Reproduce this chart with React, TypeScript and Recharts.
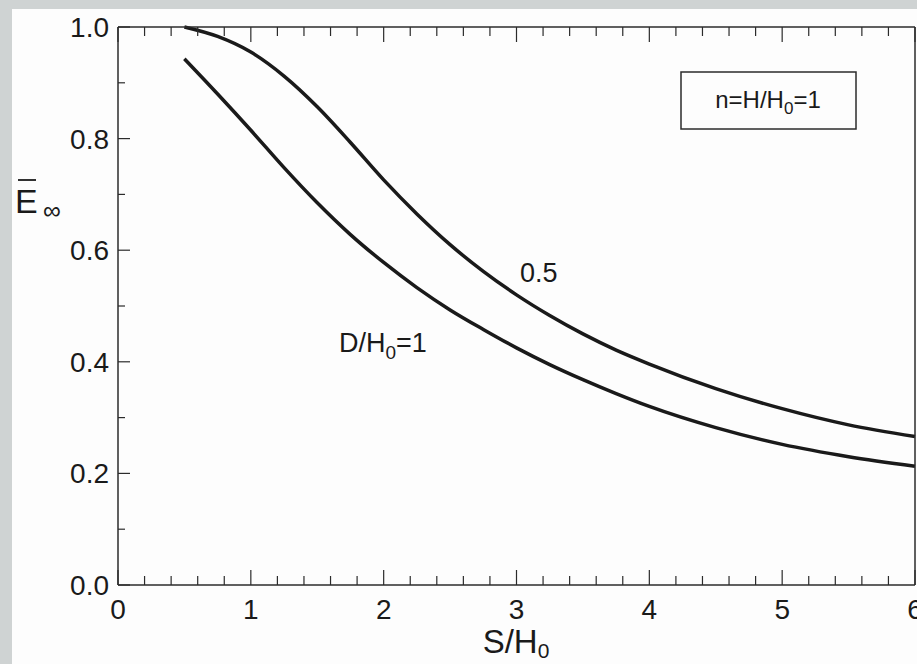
import React from "react"
import { LineChart, Line, XAxis, YAxis } from "recharts"

// S/H0 sample points and E-infinity
const sValues = [0.5, 0.75, 1, 1.25, 1.5, 1.75, 2, 2.25, 2.5, 2.75, 3, 3.25, 3.5, 3.75, 4, 4.5, 5, 5.5, 6]
const eHalf = [1.0, 0.983, 0.955, 0.912, 0.857, 0.793, 0.726, 0.665, 0.61, 0.562, 0.52, 0.483, 0.45, 0.421, 0.396, 0.352, 0.316, 0.287, 0.266]
const eOne = [0.943, 0.88, 0.815, 0.748, 0.685, 0.628, 0.578, 0.533, 0.493, 0.458, 0.425, 0.395, 0.368, 0.343, 0.32, 0.282, 0.252, 0.23, 0.213]

const xTicks = [0, 0.2, 0.4, 0.6, 0.8, 1, 1.2, 1.4, 1.6, 1.8, 2, 2.2, 2.4, 2.6, 2.8, 3, 3.2, 3.4, 3.6, 3.8, 4, 4.2, 4.4, 4.6, 4.8, 5, 5.2, 5.4, 5.6, 5.8, 6]
const yTicks = [0, 0.1, 0.2, 0.3, 0.4, 0.5, 0.6, 0.7, 0.8, 0.9, 1.0]

const data = sValues.map((s, i) => ({ s, half: eHalf[i], one: eOne[i] }))

const FONT = "'Liberation Sans', Arial, sans-serif"
const INK = "#1a1a1a"
const AXIS = "#2b2b2b"

const isMajorX = (v: number) => Math.abs(v - Math.round(v)) < 1e-6
const isMajorY = (v: number) => Math.round(v * 10) % 2 === 0

function BottomTick({ x, y, payload }: any) {
  const major = isMajorX(payload.value)
  return (
    <g>
      <line x1={x} x2={x} y1={y} y2={y - (major ? 15 : 9)} stroke={AXIS} strokeWidth={1.2} />
      {major && (
        <text x={x} y={y + 34} textAnchor="middle" fontFamily={FONT} fontSize={28} fill={INK}>
          {payload.value}
        </text>
      )}
    </g>
  )
}

function TopTick({ x, y, payload }: any) {
  const major = isMajorX(payload.value)
  return <line x1={x} x2={x} y1={y} y2={y + (major ? 15 : 9)} stroke={AXIS} strokeWidth={1.2} />
}

function LeftTick({ x, y, payload }: any) {
  const major = isMajorY(payload.value)
  return (
    <g>
      <line x1={x} x2={x + (major ? 12 : 7)} y1={y} y2={y} stroke={AXIS} strokeWidth={1.2} />
      {major && (
        <text x={x - 9} y={y + 10} textAnchor="end" fontFamily={FONT} fontSize={28} fill={INK}>
          {payload.value.toFixed(1)}
        </text>
      )}
    </g>
  )
}

function RightTick({ x, y, payload }: any) {
  const major = isMajorY(payload.value)
  return <line x1={x} x2={x - (major ? 12 : 8)} y1={y} y2={y} stroke={AXIS} strokeWidth={1.2} />
}

export default function App() {
  return (
    <div style={{ position: "absolute", left: 0, top: 0, width: 917, height: 664, background: "#cfd3d3" }}>
      <div style={{ position: "absolute", left: 12, top: 9, width: 905, height: 655, background: "#fdfdfd" }} />
      <div style={{ position: "absolute", left: 0, top: 0 }}>
        <LineChart width={917} height={664} data={data} margin={{ top: 26, right: 1, bottom: 78, left: 117 }}>
          <XAxis
            xAxisId="b"
            dataKey="s"
            type="number"
            domain={[0, 6]}
            ticks={xTicks}
            interval={0}
            height={1}
            tickSize={0}
            tickMargin={0}
            tick={(p: any) => <BottomTick {...p} />}
            axisLine={{ stroke: AXIS, strokeWidth: 1.5 }}
          />
          <XAxis
            xAxisId="t"
            orientation="top"
            dataKey="s"
            type="number"
            domain={[0, 6]}
            ticks={xTicks}
            interval={0}
            height={1}
            tickSize={0}
            tickMargin={0}
            tick={(p: any) => <TopTick {...p} />}
            axisLine={{ stroke: AXIS, strokeWidth: 1.5 }}
          />
          <YAxis
            yAxisId="l"
            type="number"
            domain={[0, 1]}
            ticks={yTicks}
            interval={0}
            width={1}
            tickSize={0}
            tickMargin={0}
            tick={(p: any) => <LeftTick {...p} />}
            axisLine={{ stroke: AXIS, strokeWidth: 1.5 }}
          />
          <YAxis
            yAxisId="r"
            orientation="right"
            type="number"
            domain={[0, 1]}
            ticks={yTicks}
            interval={0}
            width={1}
            tickSize={0}
            tickMargin={0}
            tick={(p: any) => <RightTick {...p} />}
            axisLine={{ stroke: AXIS, strokeWidth: 1.5 }}
          />
          <Line xAxisId="b" yAxisId="l" type="monotone" dataKey="half" stroke={INK} strokeWidth={3.5} dot={false} isAnimationActive={false} />
          <Line xAxisId="b" yAxisId="l" type="monotone" dataKey="one" stroke={INK} strokeWidth={3.5} dot={false} isAnimationActive={false} />
        </LineChart>
      </div>
      <svg width={917} height={664} style={{ position: "absolute", left: 0, top: 0, pointerEvents: "none" }}>
        {/* y-axis title */}
        <line x1={18} x2={36} y1={180} y2={180} stroke={INK} strokeWidth={1.8} />
        <text x={15} y={213} fontFamily={FONT} fontSize={34} fill={INK}>E</text>
        <text x={43} y={219} fontFamily={FONT} fontSize={25} fill={INK}>∞</text>
        {/* x-axis title */}
        <text x={516} y={653} textAnchor="middle" fontFamily={FONT} fontSize={33} fill={INK}>
          S/H<tspan fontSize={21} dy={5}>0</tspan>
        </text>
        {/* parameter box */}
        <rect x={681} y={72} width={175} height={57} fill="none" stroke={AXIS} strokeWidth={1.5} />
        <text x={768} y={108} textAnchor="middle" fontFamily={FONT} fontSize={24} fill={INK}>
          n=H/H<tspan fontSize={17} dy={6}>0</tspan><tspan dy={-6}>=1</tspan>
        </text>
        {/* curve labels */}
        <text x={520} y={282} fontFamily={FONT} fontSize={27} fill={INK}>0.5</text>
        <text x={339} y={352} fontFamily={FONT} fontSize={27} fill={INK}>
          D/H<tspan fontSize={19} dy={7}>0</tspan><tspan dy={-7}>=1</tspan>
        </text>
      </svg>
    </div>
  )
}
